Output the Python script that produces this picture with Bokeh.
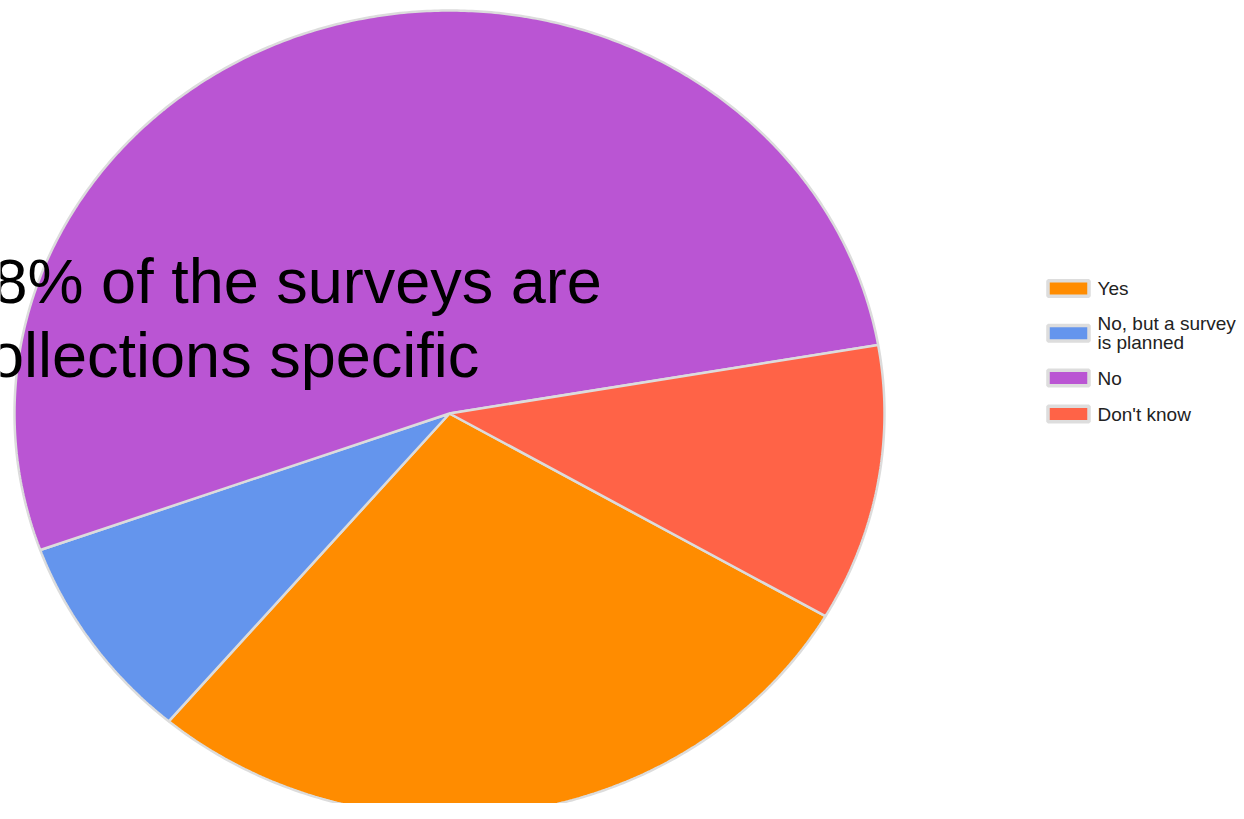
import numpy as np
from bokeh.plotting import figure
from bokeh.models import Range1d
from bokeh.core.properties import value
from bokeh.embed import file_html
from bokeh.resources import INLINE

# ---- data ----
categories = ["Yes", "No, but a survey is planned", "No", "Don't know"]
legend_labels = ["Yes", "No, but a survey\nis planned", "No", "Don't know"]
counts = [10, 3, 19, 4]
colors = ["#FF8C00", "#6495ED", "#BA55D3", "#FF6347"]
annotation_lines = ["28% of the surveys are", "collections specific"]

# ---- layout ----
W, H = 1236, 803
p = figure(width=W, height=H, x_range=Range1d(0, W), y_range=Range1d(H, 0),
           output_backend="svg", toolbar_location=None, min_border=0,
           background_fill_color="white", border_fill_color="white")
p.axis.visible = False
p.grid.visible = False
p.outline_line_color = None

cx, cy, rx, ry = 449, 413, 435, 403
start = np.deg2rad(30.2)
frac = np.array(counts, dtype=float) / sum(counts)
bounds = start + 2 * np.pi * np.concatenate([[0.0], np.cumsum(frac)])
xs, ys = [], []
for a0, a1 in zip(bounds[:-1], bounds[1:]):
    n = max(int((a1 - a0) / (2 * np.pi) * 720), 8)
    t = np.linspace(a0, a1, n)
    xs.append([cx] + list(cx + rx * np.cos(t)))
    ys.append([cy] + list(cy + ry * np.sin(t)))
p.patches(xs=xs, ys=ys, fill_color=colors, line_color="#dcdcdc", line_width=2.5)

# overlay annotation
p.text(x=[-43, -43], y=[280, 354], text=annotation_lines,
       text_font=value("Liberation Sans"), text_font_size="63px",
       text_baseline="alphabetic", text_align="left", text_color="black")

# legend
line_h, gap = 17.5, 18.5
cur = 288 - line_h / 2
centers = []
for lab in legend_labels:
    nl = lab.count("\n") + 1
    centers.append(cur + nl * line_h / 2)
    cur += nl * line_h + gap
p.rect(x=[1068] * len(centers), y=centers, width=41, height=15.5,
       fill_color=colors, line_color="#dddddd", line_width=3.5)
p.text(x=[1097] * len(centers), y=centers, text=legend_labels,
       text_font=value("Liberation Sans"), text_font_size="19px",
       text_baseline="middle", text_align="left", text_line_height=0.92,
       text_color="#222222")

open("out.html", "w").write(file_html(p, INLINE))
